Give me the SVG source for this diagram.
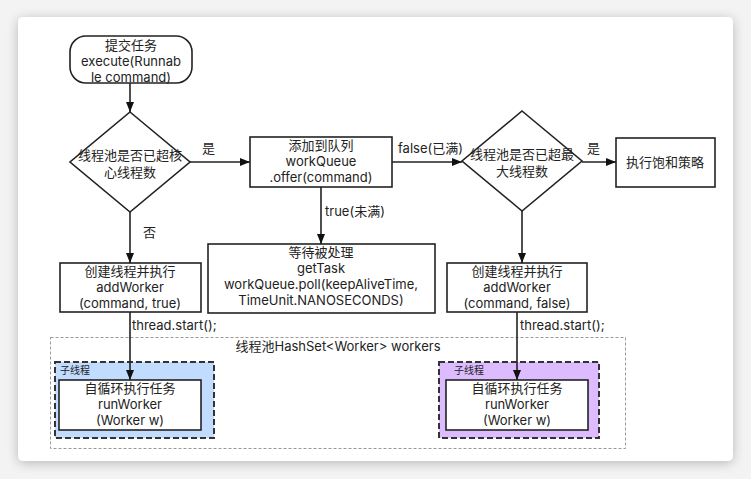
<svg xmlns="http://www.w3.org/2000/svg" width="751" height="479" viewBox="0 0 751 479">
<defs>
<filter id="sh" x="-10%" y="-10%" width="120%" height="120%">
<feGaussianBlur in="SourceAlpha" stdDeviation="6"/>
<feOffset dx="0" dy="2"/>
<feComponentTransfer><feFuncA type="linear" slope="0.25"/></feComponentTransfer>
<feMerge><feMergeNode/><feMergeNode in="SourceGraphic"/></feMerge>
</filter>
<marker id="ah" viewBox="0 0 10 10" refX="10" refY="5" markerWidth="10" markerHeight="10" markerUnits="userSpaceOnUse" orient="auto">
<path d="M0,1 L10,5 L0,9 Z" fill="#111"/>
</marker>
</defs>
<style>
text{font-family:Inter,"Noto Sans CJK SC",sans-serif;font-size:13px;fill:#222;text-anchor:middle}
.box{fill:#fff;stroke:#222;stroke-width:1.6}
.edge{stroke:#222;stroke-width:1.6;fill:none}
.lbl{text-anchor:start}
.small{font-size:10px;text-anchor:start}
</style>
<rect width="751" height="479" fill="#f3f3f3"/>
<rect x="18" y="17" width="715" height="444" rx="5" fill="#fff" filter="url(#sh)"/>

<g id="pool">
<rect x="50.5" y="337.5" width="575" height="111" fill="none" stroke="#999" stroke-width="1" stroke-dasharray="3,2"/>
<text x="338" y="351">线程池HashSet&lt;Worker&gt; workers</text>
</g>

<g id="start">
<rect class="box" x="70" y="36" width="122" height="47" rx="16"/>
<text x="131" y="50">提交任务</text>
<text x="131" y="66">execute(Runnab</text>
<text x="131" y="82">le command)</text>
</g>

<g id="coreCheck">
<polygon class="box" points="130,112 190,162 130,212 70,162"/>
<text x="130" y="160">线程池是否已超核</text>
<text x="130" y="177">心线程数</text>
</g>

<g id="enqueue">
<rect class="box" x="250" y="137" width="142" height="50"/>
<text x="321" y="150">添加到队列</text>
<text x="321" y="166">workQueue</text>
<text x="321" y="182">.offer(command)</text>
</g>

<g id="maxCheck">
<polygon class="box" points="522,111 582,161 522,211 462,161"/>
<text x="522" y="159">线程池是否已超最</text>
<text x="522" y="176">大线程数</text>
</g>

<g id="reject">
<rect class="box" x="616" y="138" width="99" height="49"/>
<text x="665" y="167">执行饱和策略</text>
</g>

<g id="addCore">
<rect class="box" x="60" y="263" width="141" height="49"/>
<text x="130" y="276">创建线程并执行</text>
<text x="130" y="292">addWorker</text>
<text x="130" y="308">(command, true)</text>
</g>

<g id="wait">
<rect class="box" x="208" y="244" width="227" height="69"/>
<text x="321" y="257">等待被处理</text>
<text x="321" y="273">getTask</text>
<text x="321" y="289">workQueue.poll(keepAliveTime,</text>
<text x="321" y="305">TimeUnit.NANOSECONDS)</text>
</g>

<g id="addMax">
<rect class="box" x="447" y="263" width="140" height="49"/>
<text x="517" y="276">创建线程并执行</text>
<text x="517" y="292">addWorker</text>
<text x="517" y="308">(command, false)</text>
</g>

<g id="worker1">
<rect x="55" y="362" width="159" height="76" fill="#c2dcff" stroke="#333" stroke-width="2" stroke-dasharray="6,3"/>
<text class="small" x="60" y="374">子线程</text>
<rect class="box" x="59" y="380" width="142" height="50"/>
<text x="130" y="393">自循环执行任务</text>
<text x="130" y="409">runWorker</text>
<text x="130" y="425">(Worker w)</text>
</g>

<g id="worker2">
<rect x="439" y="362" width="160" height="76" fill="#dcbcff" stroke="#333" stroke-width="2" stroke-dasharray="6,3"/>
<text class="small" x="454" y="374">子线程</text>
<rect class="box" x="446" y="380" width="142" height="50"/>
<text x="517" y="393">自循环执行任务</text>
<text x="517" y="409">runWorker</text>
<text x="517" y="425">(Worker w)</text>
</g>

<g id="connectors">
<line class="edge" x1="130" y1="83" x2="130" y2="112" marker-end="url(#ah)"/>
<line class="edge" x1="190" y1="162" x2="250" y2="162" marker-end="url(#ah)"/>
<text class="lbl" x="202" y="153">是</text>
<line class="edge" x1="392" y1="162" x2="462" y2="162" marker-end="url(#ah)"/>
<text class="lbl" x="398" y="153">false(已满)</text>
<line class="edge" x1="582" y1="162" x2="616" y2="162" marker-end="url(#ah)"/>
<text class="lbl" x="587" y="153">是</text>
<line class="edge" x1="321" y1="187" x2="321" y2="244" marker-end="url(#ah)"/>
<text class="lbl" x="325" y="216">true(未满)</text>
<line class="edge" x1="130" y1="212" x2="130" y2="263" marker-end="url(#ah)"/>
<text class="lbl" x="143" y="237">否</text>
<line class="edge" x1="522" y1="211" x2="522" y2="263" marker-end="url(#ah)"/>
<line class="edge" x1="130" y1="312" x2="130" y2="380" marker-end="url(#ah)"/>
<text class="lbl" x="132" y="330">thread.start();</text>
<line class="edge" x1="517" y1="312" x2="517" y2="380" marker-end="url(#ah)"/>
<text class="lbl" x="520" y="330">thread.start();</text>
</g>
</svg>
